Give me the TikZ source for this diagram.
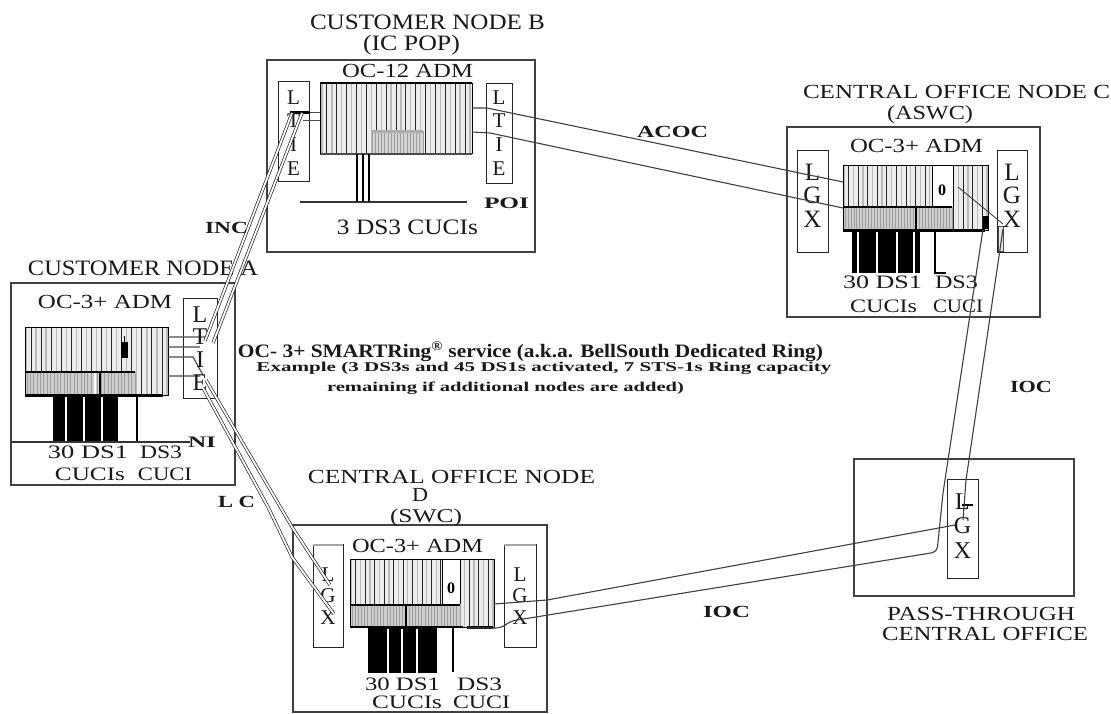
\documentclass[tikz,border=0pt]{standalone}
\usepackage{fontspec}
\setmainfont{Liberation Serif}
\usepackage{graphicx}
\newcommand\tx[3]{\resizebox{#1pt}{\height}{\fontsize{#2pt}{#2pt}\selectfont #3}}
\newcommand\bx[3]{\resizebox{#1pt}{\height}{\fontsize{#2pt}{#2pt}\selectfont\bfseries #3}}
\newcommand\lt[1]{\fontsize{#1pt}{#1pt}\selectfont}
% vertical letter stack: size, baselineskip, rows separated by \cr
\newcommand\vstack[3]{\vtop{\fontsize{#1pt}{#2pt}\selectfont\lineskiplimit=-1000pt\relax\lineskip=0pt\relax\halign{\hfil##\hfil\cr#3\crcr}}}
% stripes: x1 y1 x2 y2 n
\newcommand\stripes[5]{%
  \foreach \i in {0,...,#5}{%
    \pgfmathsetmacro\xx{#1+(#3-#1)*\i/#5}%
    \ifodd\i \draw[line width=0.9pt,black!85] (\xx,#2) -- (\xx,#4);\else \draw[line width=1.3pt,gray!55] (\xx,#2) -- (\xx,#4);\fi
  }}
\newcommand\fstripes[5]{%
  \foreach \i in {0,...,#5}{%
    \pgfmathsetmacro\xx{#1+(#3-#1)*\i/#5}%
    \draw[line width=0.8pt,gray!75] (\xx,#2) -- (\xx,#4);
  }}
\begin{document}
\begin{tikzpicture}[x=1pt,y=-1pt,
  outer/.style={draw=black!75,line width=1.6pt},
  lbox/.style={draw=black!85,line width=1pt},
  lbl/.style={anchor=base,inner sep=0pt,text=black!90},
  sline/.style={draw=black!75,line width=1.1pt},
  dbl/.style={draw=black!85,line width=0.7pt,double=white,double distance=1.8pt},
  cable/.style={line width=2.6pt,black}]
\useasboundingbox (0,0) rectangle (1111,713);
\fill[white] (0,0) rectangle (1111,713);

% ================= NODE B =================
\draw[outer] (267,60) rectangle (535,252);
\draw[lbox] (278,81) rectangle (309,181);
\draw[lbox] (486,83) rectangle (512,183);
\fill[gray!15] (320,83) rectangle (472,154);
\stripes{322}{83}{470}{154}{30}
\fill[gray!35] (372,131) rectangle (423,154);
\fstripes{372}{131}{423}{154}{16}
\draw[gray!65,line width=3pt] (372,131) -- (423,131);
\draw[black,line width=2pt] (320,83) -- (472,83);
\draw[gray!60!black,line width=2.5pt] (320,154) -- (472,154);
\draw[black,line width=1pt] (320,83) -- (320,154) (472,83) -- (472,154);
\draw[line width=1.2pt,black!80] (300,202) -- (467,202);
\foreach \xx in {357,363,369} \draw[cable] (\xx,154) -- (\xx,202);
\draw[gray!60!black,line width=1pt] (303,112) -- (320,112) (303,120) -- (320,120);
\draw[black,line width=3pt] (290,112) -- (310,112);
\node[lbl] (tB1) at (427.5,29) {\tx{235}{22}{CUSTOMER NODE B}};
\node[lbl] (tB2) at (411.5,50) {\tx{97}{22}{(IC POP)}};
\node[lbl] (tB3) at (407.5,77) {\tx{131}{20}{OC-12 ADM}};
\node[lbl] (tB4) at (407.5,234) {\tx{141}{22}{3 DS3 CUCIs}};
\node[lbl] (poi) at (506.5,208) {\bx{45}{16}{POI}};
\node[lbl] (bl) at (293.5,104) {\vstack{21}{23.7}{L\cr T\cr I\cr E}};
\node[lbl] (br) at (499,104) {\vstack{21}{23.7}{L\cr T\cr I\cr E}};

% ================= NODE C =================
\draw[outer] (787,127) rectangle (1040,317);
\draw[lbox] (797,150) rectangle (828,252);
\draw[lbox] (997,150) rectangle (1027,252);
\fill[gray!15] (843,165) rectangle (988,230);
\stripes{844}{165}{987}{230}{30}
\fill[gray!40] (843,207) rectangle (952,230);
\fstripes{845}{207}{952}{230}{36}
\draw[black,line width=2pt] (843,207) -- (952,207);
\draw[black,line width=2.5pt] (916,207) -- (916,230);
\fill[white] (932,165) rectangle (953,206);
\draw[black,line width=0.8pt] (932,206) -- (932,165) -- (953,165) -- (953,206);
\node[anchor=center,inner sep=0pt] (c0) at (942,190) {\bfseries\lt{16}0};
\draw[black,line width=1pt] (843,165) rectangle (988,230);
\draw[black,line width=3pt] (843,230) -- (985,230);
\fill[black] (983,216) rectangle (988,229);
\fill[black] (852,230) rectangle (920,273);
\foreach \xx in {858,877,897,914} \draw[white,line width=1.3pt] (\xx,232) -- (\xx,273);
\draw[cable] (935,230) -- (935,273) -- (946,273);
\draw[black!80,line width=0.8pt] (958,187) -- (1003,224);
\draw[black!70,line width=0.8pt,fill=gray!20] (998,226) rectangle (1003,251);
\node[lbl] (tC1) at (956.5,98) {\tx{307}{20}{CENTRAL OFFICE NODE C}};
\node[lbl] (tC2) at (930,119) {\tx{86}{20}{(ASWC)}};
\node[lbl] (tC3) at (916.5,152) {\tx{133}{20}{OC-3+ ADM}};
\node[lbl] (tC4) at (882.5,288) {\tx{79}{19}{30 DS1}};
\node[lbl] (tC5) at (883.5,312) {\tx{67}{19}{CUCIs}};
\node[lbl] (tC6) at (956.5,288) {\tx{43}{19}{DS3}};
\node[lbl] (tC7) at (958,312) {\tx{50}{19}{CUCI}};
\node[lbl] (cl) at (812.5,180) {\vstack{25}{23.5}{L\cr G\cr X}};
\node[lbl] (cr) at (1012,180) {\vstack{25}{23.5}{L\cr G\cr X}};

% ================= NODE A =================
\draw[outer] (11,283) rectangle (235,485);
\draw[lbox] (183,298) rectangle (217,398);
\fill[gray!15] (25,327) rectangle (168,395);
\stripes{26}{327}{167}{395}{28}
\fill[gray!40] (25,372) rectangle (135,395);
\fstripes{27}{372}{135}{395}{32}
\draw[black,line width=2pt] (25,372) -- (135,372);
\draw[white,line width=2pt] (95,373) -- (95,394);
\draw[black,line width=2.5pt] (100,372) -- (100,395);
\draw[black,line width=1pt] (25,327) rectangle (168,395);
\draw[black,line width=3pt] (25,395) -- (163,395);
\fill[black] (121,342) rectangle (128,358);
\draw[black,line width=1pt] (124,336) -- (124,342);
\fill[black] (53,395) rectangle (118,442);
\foreach \xx in {66,84,102} \draw[white,line width=1.3pt] (\xx,397) -- (\xx,442);
\draw[cable] (137,395) -- (137,442);
\draw[line width=1.2pt,black!80] (11,442) -- (190,442);
\draw[gray!60!black,line width=1.2pt] (168,337) -- (205,337) (168,347) -- (200,347)
  (168,357) -- (193,357) -- (203,375) (168,376) -- (200,376);
\node[lbl] (tA1) at (143,275) {\tx{230}{22}{CUSTOMER NODE A}};
\node[lbl] (tA2) at (105,308) {\tx{134}{20}{OC-3+ ADM}};
\node[lbl] (tA3) at (88,458) {\tx{80}{19}{30 DS1}};
\node[lbl] (tA4) at (161,458) {\tx{42}{19}{DS3}};
\node[lbl] (tA5) at (90,480) {\tx{70}{19}{CUCIs}};
\node[lbl] (tA6) at (165,480) {\tx{54}{19}{CUCI}};
\node[lbl] (ni) at (202,447) {\bx{28}{16}{NI}};
\node[lbl] (al) at (200,322) {\vstack{24}{22.7}{L\cr T\cr I\cr E}};

% ================= NODE D =================
\draw[outer] (293,525) rectangle (547,712);
\draw[lbox] (313,544) rectangle (343,647);
\draw[lbox] (504,544) rectangle (536,647);
\draw[gray!70,line width=2.5pt] (313,545) -- (343,545) (504,545) -- (536,545);
\fill[gray!15] (350,559) rectangle (494,627);
\stripes{351}{559}{493}{627}{30}
\fill[gray!40] (350,605) rectangle (460,627);
\fstripes{352}{605}{460}{627}{34}
\draw[black,line width=2pt] (350,605) -- (460,605);
\draw[black,line width=2.5pt] (406,605) -- (406,627);
\fill[white] (442,559) rectangle (460,604);
\draw[black,line width=0.8pt] (442,604) -- (442,559) -- (460,559) -- (460,604);
\node[anchor=center,inner sep=0pt] (d0) at (451,588) {\bfseries\lt{16}0};
\draw[black,line width=1pt] (350,559) rectangle (494,627);
\draw[black,line width=2.5pt] (350,627) -- (463,627);
\draw[black,line width=3pt] (467,627) -- (493,627);
\fill[black] (368,627) rectangle (437,673);
\foreach \xx in {388,402,417} \draw[white,line width=1.3pt] (\xx,629) -- (\xx,673);
\draw[cable] (453,627) -- (453,672);
\node[lbl] (tD1) at (451.5,483) {\tx{287}{20}{CENTRAL OFFICE NODE}};
\node[lbl] (tD2) at (420,501) {\tx{16}{20}{D}};
\node[lbl] (tD3) at (426,522) {\tx{72}{19.5}{(SWC)}};
\node[lbl] (tD4) at (417.5,552) {\tx{131}{20}{OC-3+ ADM}};
\node[lbl] (tD5) at (402.5,690) {\tx{75}{19}{30 DS1}};
\node[lbl] (tD6) at (479.5,690) {\tx{45}{19}{DS3}};
\node[lbl] (tD7) at (407,708) {\tx{70}{19}{CUCIs}};
\node[lbl] (tD8) at (481.5,708) {\tx{57}{19}{CUCI}};
\node[lbl] (dl) at (328,581) {\vstack{21}{21.5}{L\cr G\cr X}};
\node[lbl] (dr) at (520,581) {\vstack{21}{21.5}{L\cr G\cr X}};

% ================= PASS-THROUGH =================
\draw[outer] (854,459) rectangle (1074,596);
\draw[lbox] (947,479) rectangle (978,578);
\node[lbl] (pl) at (962.5,509) {\vstack{24}{24.5}{L\cr G\cr X}};
\draw[black,line width=2.5pt] (962,505) -- (973,505);
\node[lbl] (tP1) at (981,620) {\tx{188}{20}{PASS-THROUGH}};
\node[lbl] (tP2) at (985,640) {\tx{206}{20}{CENTRAL OFFICE}};

% ================= CONNECTORS =================
% ACOC
\draw[sline] (472,108) -- (487,108) -- (843,182);
\draw[sline] (472,132) -- (490,133) -- (843,208);
% INC
\draw[dbl] (292,113) -- (205,341);
\draw[dbl] (302,113) -- (213,343);
% LC
\draw[dbl] (206,380) -- (292,527) -- (330,585);
\draw[dbl] (203,388) -- (268,507) -- (292,557) -- (334,614);
% IOC lower
\draw[sline] (494,604) -- (547,600) -- (955,525);
\draw[sline,rounded corners=5pt] (467,628) -- (501,628) -- (511,621) -- (937,552) -- (943,493) -- (983,229);
% IOC upper second line
\draw[sline] (963,520) -- (966,480) -- (1003,229);

% ================= CENTRAL TEXT & LABELS =================
\node[lbl] (m1) at (530.5,357) {\bx{585}{19}{OC- 3+ SMARTRing\textsuperscript{\textregistered} service (a.k.a. BellSouth Dedicated Ring)}};
\node[lbl] (m2) at (544,371) {\bx{575}{13.5}{Example (3 DS3s and 45 DS1s activated, 7 STS-1s Ring capacity}};
\node[lbl] (m3) at (505.5,391) {\bx{357}{13.5}{remaining if additional nodes are added)}};
\node[lbl] (acoc) at (672.5,137) {\bx{71}{17}{ACOC}};
\node[lbl] (inc) at (226.5,233) {\bx{43}{17}{INC}};
\node[lbl] (lc) at (236.5,507) {\bx{37}{17}{L C}};
\node[lbl] (ioc1) at (726.5,617) {\bx{47}{17}{IOC}};
\node[lbl] (ioc2) at (1031,392) {\bx{42}{17}{IOC}};
\end{tikzpicture}
\end{document}
